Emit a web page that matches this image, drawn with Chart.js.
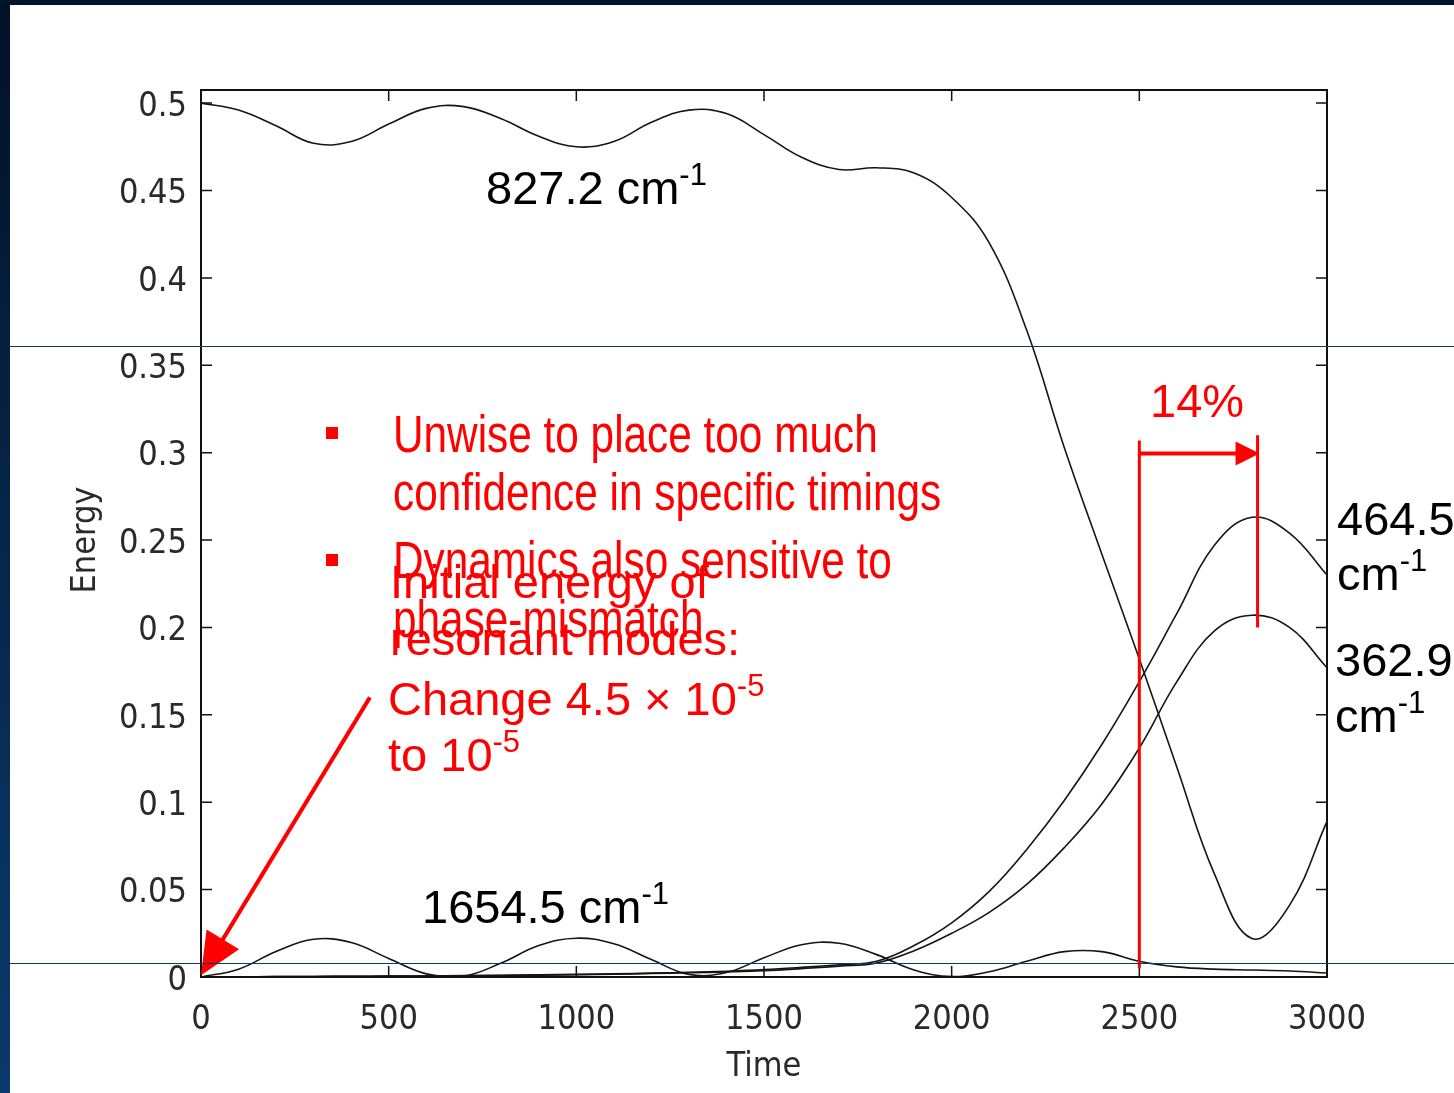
<!DOCTYPE html>
<html>
<head>
<meta charset="utf-8">
<script src="https://cdn.jsdelivr.net/npm/chart.js@4.4.1/dist/chart.umd.min.js"></script>
<style>
  html, body { margin: 0; padding: 0; background: #fff; }
  #wrap { width: 1454px; height: 1093px; }
</style>
</head>
<body>
<div id="wrap"><canvas id="energyChart"></canvas></div>
<script>
// energy of each mode against time
const times = [0, 100, 200, 300, 400, 500, 600, 700, 800, 900, 1000, 1100, 1200, 1300, 1400, 1500,
  1600, 1700, 1800, 1900, 2000, 2100, 2200, 2300, 2400, 2500, 2600, 2700, 2800, 2900, 3000];

const mode827 = [0.500, 0.496, 0.487, 0.477, 0.478, 0.488, 0.497, 0.498, 0.491, 0.481, 0.475, 0.478, 0.489, 0.496, 0.494, 0.482,
  0.469, 0.462, 0.463, 0.460, 0.446, 0.420, 0.370, 0.303, 0.242, 0.182, 0.120, 0.059, 0.022, 0.041, 0.089];

const mode464 = [0, 0.0001, 0.0002, 0.0003, 0.0004, 0.0005, 0.0006, 0.0008, 0.0010, 0.0012, 0.0015, 0.0018, 0.0022, 0.0027, 0.0033, 0.0042,
  0.0055, 0.0070, 0.0090, 0.0180, 0.0310, 0.0490, 0.0730, 0.1010, 0.1330, 0.1690, 0.2080, 0.2470, 0.2630, 0.2540, 0.2300];

const mode363 = [0, 0.0001, 0.0002, 0.0003, 0.0004, 0.0005, 0.0006, 0.0007, 0.0009, 0.0011, 0.0013, 0.0016, 0.0020, 0.0024, 0.0029, 0.0036,
  0.0048, 0.0062, 0.0080, 0.0150, 0.0250, 0.0370, 0.0530, 0.0740, 0.0990, 0.1310, 0.1690, 0.1980, 0.2070, 0.2000, 0.1770];

const mode1654 = [0, 0.0045, 0.0146, 0.0216, 0.0197, 0.0106, 0.0018, 0.0005, 0.0080, 0.0180, 0.0222, 0.0190, 0.0100, 0.0015, 0.0026, 0.0110,
  0.0185, 0.0193, 0.0128, 0.0040, 0.0002, 0.0030, 0.0090, 0.0145, 0.0145, 0.0090, 0.0058, 0.0045, 0.0040, 0.0034, 0.0023];

const xTicks = [0, 500, 1000, 1500, 2000, 2500, 3000];
const yTicks = [0, 0.05, 0.1, 0.15, 0.2, 0.25, 0.3, 0.35, 0.4, 0.45, 0.5];

function series(vals) {
  return vals.map((v, i) => ({ x: times[i], y: v }));
}

function lineSet(vals) {
  return {
    data: series(vals),
    borderColor: '#151515',
    borderWidth: 1.6,
    pointRadius: 0,
    fill: false,
    tension: 0.4
  };
}

const tickFont = { family: 'DejaVu Sans Condensed, DejaVu Sans', size: 34 };

function superText(ctx, base, sup, x, y, size, supSize) {
  ctx.font = size + 'px "Liberation Sans", Arial, sans-serif';
  ctx.fillText(base, x, y);
  const w = ctx.measureText(base).width;
  ctx.font = supSize + 'px "Liberation Sans", Arial, sans-serif';
  ctx.fillText(sup, x + w, y - size * 0.4);
}

function narrowText(ctx, text, x, y) {
  ctx.save();
  ctx.translate(x, y);
  ctx.scale(0.83, 1);
  ctx.font = '51px "Liberation Sans", Arial, sans-serif';
  ctx.fillText(text, 0, 0);
  ctx.restore();
}

function arrowHead(ctx, x0, y0, x1, y1, len, half) {
  const a = Math.atan2(y1 - y0, x1 - x0);
  ctx.beginPath();
  ctx.moveTo(x1, y1);
  ctx.lineTo(x1 - len * Math.cos(a) + half * Math.sin(a), y1 - len * Math.sin(a) - half * Math.cos(a));
  ctx.lineTo(x1 - len * Math.cos(a) - half * Math.sin(a), y1 - len * Math.sin(a) + half * Math.cos(a));
  ctx.closePath();
  ctx.fill();
}

const slideBackground = {
  id: 'slideBackground',
  beforeDraw(chart) {
    const ctx = chart.ctx;
    ctx.save();
    ctx.fillStyle = '#ffffff';
    ctx.fillRect(0, 0, chart.width, chart.height);
    const g = ctx.createLinearGradient(0, 0, 0, chart.height);
    g.addColorStop(0, '#011228');
    g.addColorStop(1, '#0b3a6c');
    ctx.fillStyle = g;
    ctx.fillRect(0, 0, 10, chart.height);
    ctx.fillStyle = '#02142b';
    ctx.fillRect(0, 0, chart.width, 5);
    ctx.restore();
  }
};

const matlabFrame = {
  id: 'matlabFrame',
  afterDraw(chart) {
    const ctx = chart.ctx;
    const xs = chart.scales.x, ys = chart.scales.y;
    const a = chart.chartArea;
    ctx.save();
    // box and inward ticks
    ctx.strokeStyle = '#111';
    ctx.lineWidth = 2;
    ctx.strokeRect(a.left, a.top, a.right - a.left, a.bottom - a.top);
    ctx.lineWidth = 1.5;
    ctx.beginPath();
    xTicks.forEach(t => {
      const px = xs.getPixelForValue(t);
      ctx.moveTo(px, a.bottom); ctx.lineTo(px, a.bottom - 11);
      ctx.moveTo(px, a.top); ctx.lineTo(px, a.top + 11);
    });
    yTicks.forEach(v => {
      const py = ys.getPixelForValue(v);
      ctx.moveTo(a.left, py); ctx.lineTo(a.left + 11, py);
      ctx.moveTo(a.right, py); ctx.lineTo(a.right - 11, py);
    });
    ctx.stroke();

    // axis titles
    ctx.fillStyle = '#2a2a2a';
    ctx.font = '34px "DejaVu Sans Condensed", "DejaVu Sans", sans-serif';
    ctx.textAlign = 'center';
    ctx.textBaseline = 'middle';
    ctx.fillText('Time', xs.getPixelForValue(1500), 1067);
    ctx.save();
    ctx.translate(86, ys.getPixelForValue(0.25));
    ctx.rotate(-Math.PI / 2);
    ctx.fillText('Energy', 0, 0);
    ctx.restore();

    // black mode labels
    ctx.textAlign = 'left';
    ctx.textBaseline = 'alphabetic';
    ctx.fillStyle = '#000';
    superText(ctx, '827.2 cm', '-1', 486, 204, 47, 31);
    superText(ctx, '1654.5 cm', '-1', 422, 923, 47, 31);
    superText(ctx, '464.5', '', 1337, 535, 47, 31);
    superText(ctx, 'cm', '-1', 1337, 590, 47, 31);
    superText(ctx, '362.9', '', 1335, 676, 47, 31);
    superText(ctx, 'cm', '-1', 1335, 732, 47, 31);

    // red annotations
    ctx.fillStyle = '#ff0000';
    ctx.strokeStyle = '#ff0000';
    ctx.fillRect(326, 427, 12, 12);
    ctx.fillRect(326, 554, 12, 12);
    superText(ctx, 'Initial energy of', '', 390, 598, 47, 31);
    superText(ctx, 'resonant modes:', '', 390, 655, 47, 31);
    superText(ctx, 'Change 4.5 \u00d7 10', '-5', 388, 715, 47, 31);
    superText(ctx, 'to 10', '-5', 388, 771, 47, 31);
    narrowText(ctx, 'Unwise to place too much', 393, 452);
    narrowText(ctx, 'confidence in specific timings', 393, 510);
    narrowText(ctx, 'Dynamics also sensitive to', 393, 578);
    narrowText(ctx, 'phase-mismatch', 393, 637);
    superText(ctx, '14%', '', 1150, 417, 47, 31);

    // 14% bracket: from t=2500 to the peak near t=2815
    const xa = xs.getPixelForValue(2500), xb = xs.getPixelForValue(2815);
    ctx.lineWidth = 3;
    ctx.beginPath();
    ctx.moveTo(xa, ys.getPixelForValue(0.307)); ctx.lineTo(xa, ys.getPixelForValue(0.005));
    ctx.moveTo(xb, ys.getPixelForValue(0.310)); ctx.lineTo(xb, ys.getPixelForValue(0.200));
    ctx.stroke();
    const yArrow = ys.getPixelForValue(0.2995);
    ctx.lineWidth = 4;
    ctx.beginPath();
    ctx.moveTo(xa, yArrow); ctx.lineTo(xb - 20, yArrow);
    ctx.stroke();
    arrowHead(ctx, xa, yArrow, xb + 2, yArrow, 24, 12);

    // pointer to the start of the run
    const tx = xs.getPixelForValue(450), ty = ys.getPixelForValue(0.160);
    const hx = xs.getPixelForValue(0), hy = ys.getPixelForValue(0.001);
    const ang = Math.atan2(hy - ty, hx - tx);
    ctx.lineWidth = 4;
    ctx.beginPath();
    ctx.moveTo(tx, ty); ctx.lineTo(hx - 30 * Math.cos(ang), hy - 30 * Math.sin(ang));
    ctx.stroke();
    arrowHead(ctx, tx, ty, hx, hy, 42, 19);

    // slide guide lines over the picture
    ctx.fillStyle = '#123760';
    ctx.fillRect(10, 346, chart.width - 10, 1);
    ctx.fillRect(10, 963, chart.width - 10, 1);
    ctx.restore();
  }
};

const ctx = document.getElementById('energyChart').getContext('2d');
new Chart(ctx, {
  type: 'line',
  data: {
    datasets: [lineSet(mode827), lineSet(mode464), lineSet(mode363), lineSet(mode1654)]
  },
  options: {
    responsive: true,
    maintainAspectRatio: false,
    animation: false,
    layout: { padding: { left: 0, top: 90, right: 127, bottom: 0 } },
    plugins: { legend: { display: false }, tooltip: { enabled: false } },
    scales: {
      x: {
        type: 'linear',
        min: 0,
        max: 3000,
        grid: { display: false, drawTicks: false },
        border: { display: false },
        afterBuildTicks: s => { s.ticks = xTicks.map(v => ({ value: v })); },
        afterFit: s => { s.height = 116; },
        ticks: { font: tickFont, color: '#2a2a2a', padding: 23, maxRotation: 0, autoSkip: false,
          callback: v => String(v) }
      },
      y: {
        min: 0,
        max: 0.5075,
        grid: { display: false, drawTicks: false },
        border: { display: false },
        afterBuildTicks: s => { s.ticks = yTicks.map(v => ({ value: v })); },
        afterFit: s => { s.width = 201; },
        ticks: { font: tickFont, color: '#2a2a2a', padding: 14, labelOffset: 4, autoSkip: false,
          callback: v => String(+v.toFixed(2)) }
      }
    }
  },
  plugins: [slideBackground, matlabFrame]
});
</script>
</body>
</html>
